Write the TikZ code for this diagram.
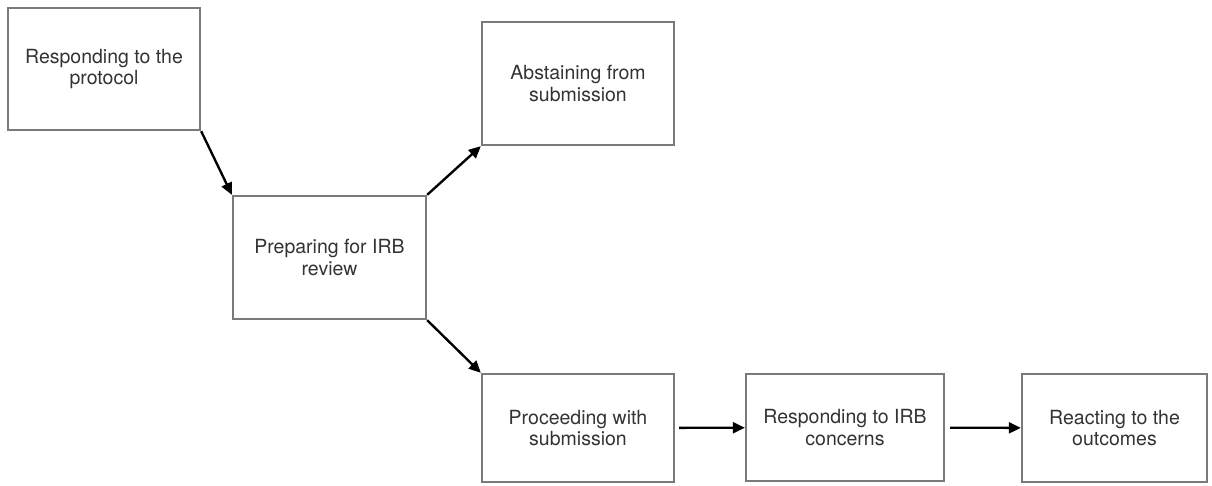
\documentclass[tikz,border=0pt]{standalone}
\usepackage{fontspec}
\setmainfont{TeX Gyre Heros}
\usetikzlibrary{arrows.meta}
\definecolor{boxgray}{HTML}{7A7A7A}
\definecolor{textgray}{HTML}{333333}
\tikzset{
	stage/.style={draw=boxgray,line width=1.35pt,rectangle,align=center,text=textgray,
		font=\fontsize{11.1}{12.4}\selectfont,inner sep=0pt},
	flow/.style={-{Triangle[length=0.24cm,width=0.22cm]},line width=1.35pt,black}
}
\begin{document}
\begin{tikzpicture}[x=0.02cm,y=-0.02cm]
			\useasboundingbox (0,0) rectangle (1212,485);

			\node[stage,minimum width=3.84cm,minimum height=2.44cm] (protocol) at (104,69) {Responding to the\\protocol};
			\node[stage,minimum width=3.86cm,minimum height=2.46cm] (prepare) at (329.5,257.5) {Preparing for IRB\\review};
			\node[stage,minimum width=3.84cm,minimum height=2.46cm] (abstain) at (578,83.5) {Abstaining from\\submission};
			\node[stage,minimum width=3.84cm,minimum height=2.16cm] (proceed) at (578,428) {Proceeding with\\submission};
			\node[stage,minimum width=3.96cm,minimum height=2.14cm] (concerns) at (845,427.5) {Responding to IRB\\concerns};
			\node[stage,minimum width=3.70cm,minimum height=2.16cm] (outcomes) at (1114.5,428) {Reacting to the\\outcomes};

			\draw[flow] (protocol.south east) -- (prepare.north west);
			\draw[flow] (prepare.north east) -- (abstain.south west);
			\draw[flow] (prepare.south east) -- (proceed.north west);
			\draw[flow,shorten <=0.08cm] (proceed) -- (concerns);
			\draw[flow,shorten <=0.1cm] (concerns) -- (outcomes);
		\end{tikzpicture}
\end{document}
